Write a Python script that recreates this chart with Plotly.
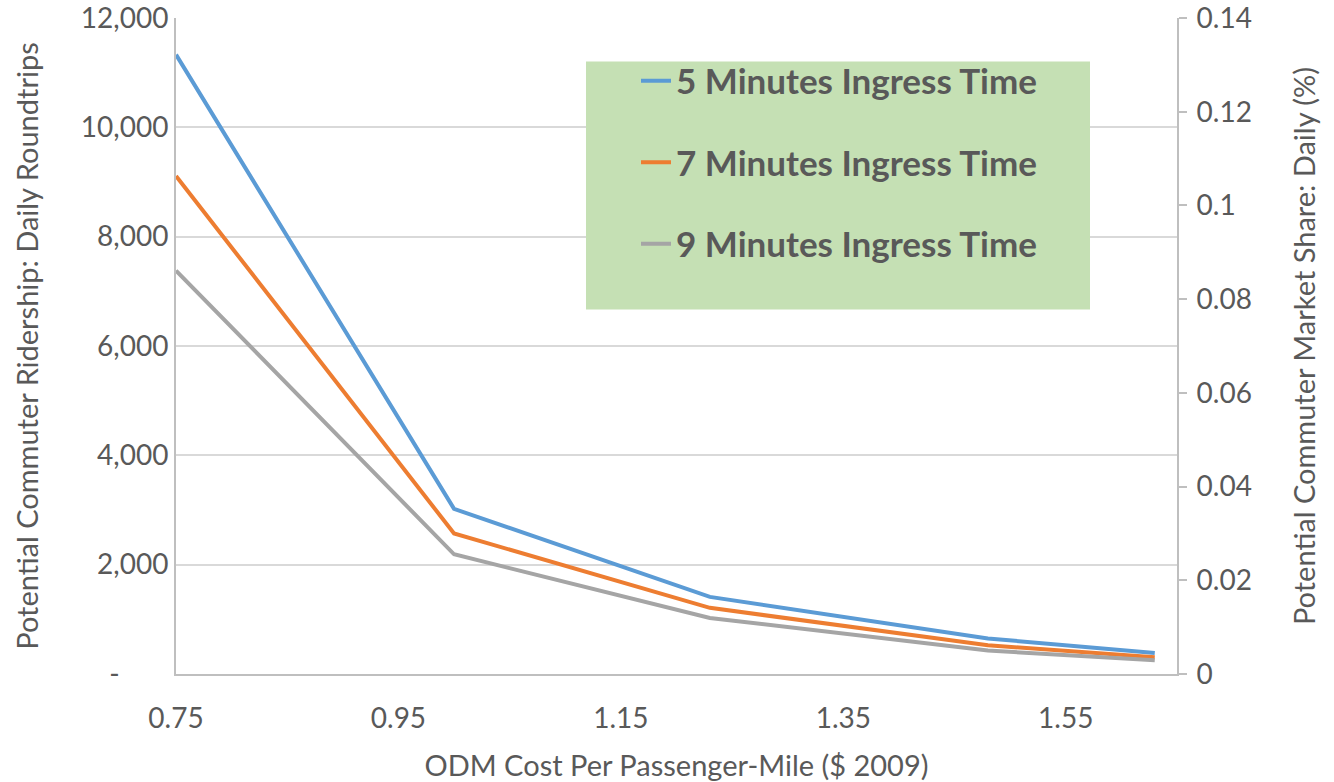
import plotly.graph_objects as go

# ODM cost per passenger-mile ($ 2009)
cost = [0.75, 1.00, 1.23, 1.48, 1.63]

# Potential commuter ridership (daily roundtrips) by ingress time
ingress_5 = [11330, 3020, 1410, 650, 385]
ingress_7 = [9110, 2570, 1210, 525, 305]
ingress_9 = [7380, 2190, 1025, 430, 250]

series_names = ["5 Minutes Ingress Time", "7 Minutes Ingress Time", "9 Minutes Ingress Time"]
series_colors = ["#5B9BD5", "#ED7D31", "#A5A5A5"]

x_ticks = [0.75, 0.95, 1.15, 1.35, 1.55]
y_ticks = [0, 2000, 4000, 6000, 8000, 10000, 12000]
y_labels = ["-\u2007\u2007\u2007", "2,000", "4,000", "6,000", "8,000", "10,000", "12,000"]
y2_ticks = [0, 0.02, 0.04, 0.06, 0.08, 0.1, 0.12, 0.14]
y2_labels = ["0", "0.02", "0.04", "0.06", "0.08", "0.1", "0.12", "0.14"]

TEXT = "#595959"
FONT = "Lato"
TICK_SIZE = 28
TITLE_SIZE = 29

fig = go.Figure()
for name, vals, col in zip(series_names, [ingress_5, ingress_7, ingress_9], series_colors):
    fig.add_trace(go.Scatter(
        x=cost, y=vals, mode="lines", name=name, legendgroup=name,
        line=dict(color=col, width=4),
    ))

# empty trace so the secondary (market share) axis is drawn
fig.add_trace(go.Scatter(x=[None], y=[None], yaxis="y2", showlegend=False, hoverinfo="skip"))

# green backdrop behind the legend
fig.add_shape(type="rect", xref="paper", yref="paper",
              x0=(586 - 176) / 1001, x1=(1090 - 176) / 1001,
              y0=(674.5 - 310) / 656, y1=(674.5 - 62) / 656,
              fillcolor="#C5E0B4", line=dict(width=0), layer="above")

fig.update_layout(
    width=1334, height=782,
    margin=dict(l=176, r=157, t=18, b=108, autoexpand=False),
    paper_bgcolor="white", plot_bgcolor="white",
    font=dict(family=FONT, color=TEXT, size=TICK_SIZE),
    showlegend=True,
    legend=dict(
        x=(636 - 176) / 1001, y=(674.5 - 52) / 656, xanchor="left", yanchor="top",
        bgcolor="rgba(0,0,0,0)", borderwidth=0,
        font=dict(family=FONT, size=35, color=TEXT, weight="bold"),
        tracegroupgap=33,
    ),
    xaxis=dict(
        range=[0.75, 1.65], tickvals=x_ticks, ticktext=[f"{v:.2f}" for v in x_ticks],
        showgrid=False, zeroline=False, showline=True, linecolor="#BFBFBF", linewidth=2,
        ticks="", tickfont=dict(size=TICK_SIZE, color=TEXT), ticklabelstandoff=18,
        ticklabeloverflow="allow", automargin=False,
        title=dict(text="ODM Cost Per Passenger-Mile ($ 2009)", font=dict(size=TITLE_SIZE, color=TEXT), standoff=27),
    ),
    yaxis=dict(
        range=[0, 12000], tickvals=y_ticks, ticktext=y_labels,
        showgrid=True, gridcolor="#D9D9D9", gridwidth=1.5, zeroline=False,
        showline=True, linecolor="#BFBFBF", linewidth=2, ticks="",
        tickfont=dict(size=TICK_SIZE, color=TEXT), ticklabelstandoff=0,
        ticklabeloverflow="allow", automargin=False,
        title=dict(text="Potential Commuter Ridership: Daily Roundtrips", font=dict(size=TITLE_SIZE, color=TEXT), standoff=34),
    ),
    yaxis2=dict(
        range=[0, 0.14], tickvals=y2_ticks, ticktext=y2_labels, overlaying="y", side="right",
        showgrid=False, zeroline=False, showline=True, linecolor="#BFBFBF", linewidth=2,
        ticks="outside", ticklen=8, tickcolor="#BFBFBF", tickwidth=2,
        tickfont=dict(size=TICK_SIZE, color=TEXT), ticklabelstandoff=4,
        ticklabeloverflow="allow", automargin=False,
        title=dict(text="Potential Commuter Market Share: Daily (%)", font=dict(size=TITLE_SIZE, color=TEXT), standoff=44),
    ),
)

fig.write_html("out.html")
